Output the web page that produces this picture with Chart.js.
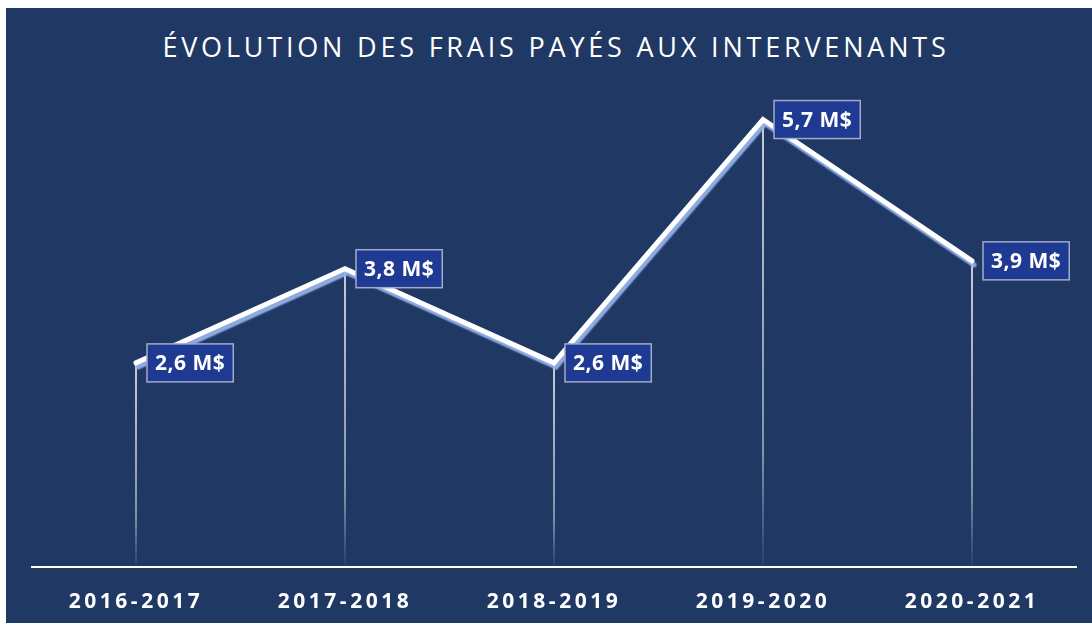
<!DOCTYPE html>
<html>
<head>
<meta charset="utf-8">
<script src="https://cdn.jsdelivr.net/npm/chart.js@4"></script>
<style>
  body{margin:0;background:#fff;}
  #wrap{position:absolute;left:6px;top:8px;width:1086px;height:615px;background:#1f3864;}
  #title{position:absolute;left:0;top:20px;width:1100px;text-align:center;color:#fff;
    font-family:"Open Sans",sans-serif;font-size:27px;letter-spacing:3.8px;font-weight:400;}
  canvas{position:absolute;left:0;top:0;}
</style>
</head>
<body>
<div id="wrap">
  <div id="title">ÉVOLUTION DES FRAIS PAYÉS AUX INTERVENANTS</div>
  <canvas id="lineChart" width="1086" height="615"></canvas>
</div>
<script>
const categories = ["2016-2017","2017-2018","2018-2019","2019-2020","2020-2021"];
const fees = [2.6, 3.8, 2.6, 5.7, 3.9];
const feeLabels = ["2,6 M$","3,8 M$","2,6 M$","5,7 M$","3,9 M$"];

// drop lines + boxes + shadow
const decor = {
  id:"decor",
  beforeDraw(chart){
    chart.ctx.letterSpacing = "3.5px";
  },
  beforeDatasetsDraw(chart){
    const ctx = chart.ctx;
    const pts = chart.getDatasetMeta(0).data;
    const bottom = chart.scales.y.getPixelForValue(0);
    ctx.save();
    pts.forEach(p=>{
      let g = ctx.createLinearGradient(0,p.y,0,bottom);
      g.addColorStop(0,"rgba(255,255,255,1)");
      g.addColorStop(0.75,"rgba(255,255,255,0.6)");
      g.addColorStop(1,"rgba(255,255,255,0.05)");
      ctx.strokeStyle = g;
      ctx.lineWidth = 1.5;
      ctx.beginPath();
      ctx.moveTo(p.x,p.y);
      ctx.lineTo(p.x,bottom-2);
      ctx.stroke();
    });
    ctx.restore();
  },
  beforeDatasetDraw(chart){
    const ctx = chart.ctx;
    ctx.save();
    ctx.shadowColor = "rgba(150,178,235,0.95)";
    ctx.shadowOffsetX = 2;
    ctx.shadowOffsetY = 4;
    ctx.shadowBlur = 1.5;
  },
  afterDatasetDraw(chart){
    chart.ctx.restore();
  },
  afterDatasetsDraw(chart){
    const ctx = chart.ctx;
    const pts = chart.getDatasetMeta(0).data;
    ctx.save();
    ctx.letterSpacing = "0.5px";
    ctx.font = "bold 21px 'Open Sans'";
    ctx.textBaseline = "middle";
    pts.forEach((p,i)=>{
      const txt = feeLabels[i];
      const w = ctx.measureText(txt).width + 16;
      const h = 38;
      const x = p.x + 11, y = p.y - h/2;
      ctx.fillStyle = "#1f3a93";
      ctx.fillRect(x,y,w,h);
      ctx.strokeStyle = "#a3abc9";
      ctx.lineWidth = 1.5;
      ctx.strokeRect(x,y,w,h);
      ctx.fillStyle = "#fff";
      ctx.fillText(txt, x+8, p.y+1);
    });
    ctx.restore();
  }
};

new Chart(document.getElementById("lineChart"),{
  type:"line",
  data:{
    labels:categories,
    datasets:[{
      data:fees,
      borderColor:"#ffffff",
      borderWidth:5,
      pointRadius:0,
      tension:0,
      borderCapStyle:"round",
      borderJoinStyle:"miter"
    }]
  },
  options:{
    responsive:false,
    animation:false,
    layout:{padding:{left:25.5,right:15.5,top:88,bottom:8}},
    plugins:{legend:{display:false},tooltip:{enabled:false}},
    scales:{
      x:{
        offset:true,
        afterFit(s){ s.height = 48; },
        grid:{display:false,drawTicks:false},
        border:{display:true,color:"#ffffff",width:2},
        ticks:{color:"#ffffff",padding:22,maxRotation:0,autoSkip:false,
          font:{family:"Open Sans",size:21,weight:"bold"}}
      },
      y:{
        display:false,
        min:0,max:6
      }
    }
  },
  plugins:[decor]
});
</script>
</body>
</html>
